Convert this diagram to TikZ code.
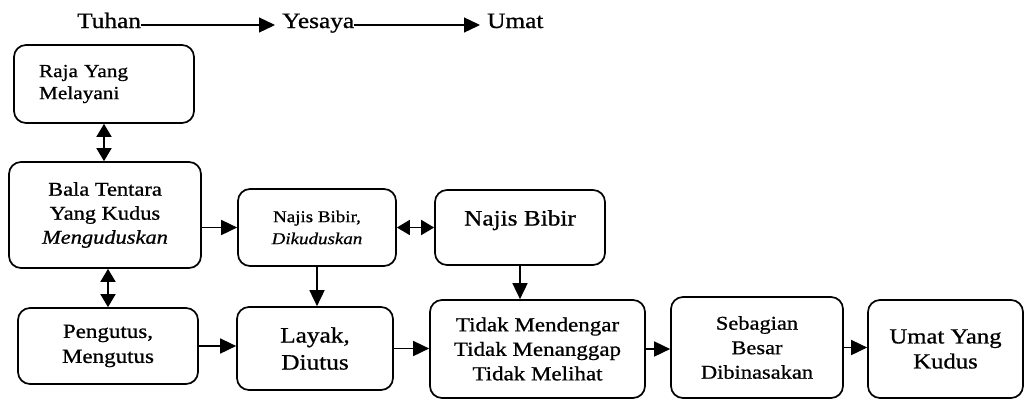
\documentclass[tikz,border=0pt]{standalone}
\usepackage{fontspec}
\setmainfont{Liberation Serif}[FakeStretch=1.15, FakeBold=0.8]
\usetikzlibrary{arrows.meta}
\begin{document}
\begin{tikzpicture}[
    x=1pt, y=-1pt,
    box/.style={draw, line width=1.7pt, rounded corners=12pt, align=center, inner sep=2pt},
    arr/.style={line width=1.7pt, -{Triangle[length=16pt,width=15pt]}},
    dblarr/.style={line width=1.7pt, {Triangle[length=13pt,width=15pt]}-{Triangle[length=13pt,width=15pt]}},
    toparr/.style={line width=1.3pt, -{Triangle[length=16pt,width=15pt]}, shorten >=7pt},
    toptext/.style={anchor=base west, inner sep=0pt, font=\fontsize{22}{26}\selectfont}
  ]
    \useasboundingbox (0,0) rectangle (1024,400);
    % jalur atas
    \node[toptext] (tuhan) at (77,28) {Tuhan};
    \node[toptext] (yesaya) at (282,28) {Yesaya};
    \node[toptext] (umat) at (487,28) {Umat};
    \draw[toparr] ([yshift=3pt]tuhan.base east) -- ([yshift=3pt]yesaya.base west);
    \draw[toparr] ([yshift=3pt]yesaya.base east) -- ([yshift=3pt]umat.base west);
    % kotak
    \node[box, minimum width=180pt, minimum height=78pt, text width=130pt, align=left,
      font=\fontsize{18.5}{22}\selectfont] (raja) at (104,84) {Raja Yang\\Melayani};
    \node[box, minimum width=192pt, minimum height=106pt,
      font=\fontsize{19.5}{24}\selectfont] (bala) at (105,215) {Bala Tentara\\Yang Kudus\\\textit{Menguduskan}};
    \node[box, minimum width=158pt, minimum height=77pt,
      font=\fontsize{16.5}{22}\selectfont] (najisd) at (317,227.5) {Najis Bibir,\\\textit{Dikuduskan}};
    \node[box, minimum width=170pt, minimum height=75pt, text height=15pt, text depth=19pt,
      font=\fontsize{22}{26}\selectfont] (najis) at (520,227.5) {Najis Bibir};
    \node[box, minimum width=180pt, minimum height=76pt,
      font=\fontsize{20}{25}\selectfont] (peng) at (108,346) {Pengutus,\\Mengutus};
    \node[box, minimum width=156pt, minimum height=83pt,
      font=\fontsize{22}{27}\selectfont] (layak) at (315,348.5) {Layak,\\Diutus};
    \node[box, minimum width=215pt, minimum height=98pt,
      font=\fontsize{20}{24.5}\selectfont] (tidak) at (537.5,349) {Tidak Mendengar\\Tidak Menanggap\\Tidak Melihat};
    \node[box, minimum width=172pt, minimum height=101pt,
      font=\fontsize{19.5}{24.5}\selectfont] (seb) at (757,347.5) {Sebagian\\Besar\\Dibinasakan};
    \node[box, minimum width=155pt, minimum height=98pt,
      font=\fontsize{21.5}{25}\selectfont] (umatk) at (945.5,349) {Umat Yang\\Kudus};
    % panah
    \draw[dblarr] (raja.south) -- (raja.south |- bala.north);
    \draw[dblarr] (peng.north) -- (peng.north |- bala.south);
    \draw[arr] (bala.east |- najisd) -- (najisd.west);
    \draw[dblarr] (najisd.east) -- (najis.west);
    \draw[arr] (najisd.south) -- (najisd.south |- layak.north);
    \draw[arr] (najis.south) -- (najis.south |- tidak.north);
    \draw[arr] (peng.east) -- (peng.east -| layak.west);
    \draw[arr] (layak.east) -- (layak.east -| tidak.west);
    \draw[arr] (tidak.east) -- (tidak.east -| seb.west);
    \draw[arr] (seb.east) -- (seb.east -| umatk.west);
\end{tikzpicture}
\end{document}
